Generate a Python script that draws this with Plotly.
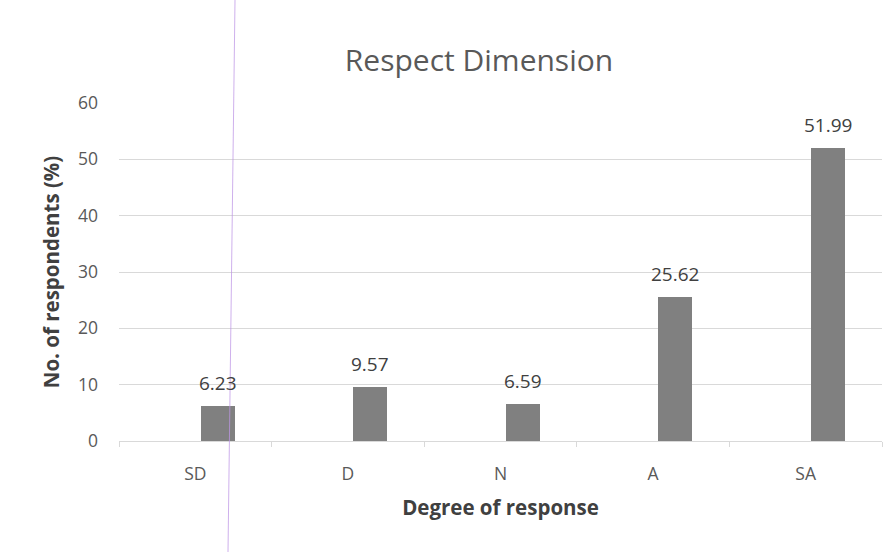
import plotly.graph_objects as go

# Survey results: share of respondents per Likert response level
categories = ["SD", "D", "N", "A", "SA"]
percent = [6.23, 9.57, 6.59, 25.62, 51.99]
y_ticks = [0, 10, 20, 30, 40, 50, 60]

FONT = "Open Sans"
TEXT_GREY = "#595959"
GRID_GREY = "#d9d9d9"
BAR_GREY = "#808080"

W, H = 896, 552
M_L, M_R, M_T, M_B = 119, 14, 103, 111
PLOT_W = W - M_L - M_R
PLOT_H = H - M_T - M_B

BAR_WIDTH = 0.223   # in category units
BAR_OFFSET = 0.035  # left edge of each bar relative to its category centre

fig = go.Figure()
fig.add_trace(go.Bar(
    x=categories,
    y=percent,
    width=[BAR_WIDTH] * len(categories),
    offset=[BAR_OFFSET] * len(categories),
    marker=dict(color=BAR_GREY, line=dict(width=0)),
    showlegend=False,
    hoverinfo="x+y",
))

# value labels centred over each bar
for i, v in enumerate(percent):
    fig.add_annotation(
        x=i + BAR_OFFSET + BAR_WIDTH / 2, y=v, xref="x", yref="y",
        text=f"{v:.2f}", showarrow=False, yanchor="bottom", yshift=8,
        font=dict(family=FONT, size=19, color="#404040"),
    )

# thin violet rule running down the whole page, slightly slanted
fig.add_shape(
    type="line", xref="paper", yref="paper",
    x0=(235 - M_L) / PLOT_W, y0=1 + M_T / PLOT_H,
    x1=(228 - M_L) / PLOT_W, y1=-M_B / PLOT_H,
    line=dict(color="rgba(190,150,230,0.75)", width=1),
)

fig.update_layout(
    width=W, height=H, autosize=False,
    margin=dict(l=M_L, r=M_R, t=M_T, b=M_B),
    paper_bgcolor="white", plot_bgcolor="white",
    bargap=0,
    title=dict(
        text="Respect Dimension", xref="container", yref="container",
        x=479 / W, y=1 - 60 / H, xanchor="center", yanchor="middle",
        font=dict(family=FONT, size=30, color=TEXT_GREY),
    ),
    font=dict(family=FONT, color=TEXT_GREY),
)

fig.update_xaxes(
    type="category", categoryorder="array", categoryarray=categories,
    range=[-0.5, len(categories) - 0.5],
    showgrid=False, showline=True, linecolor=GRID_GREY, linewidth=1,
    ticks="outside", tickson="boundaries", ticklen=5, tickcolor=GRID_GREY,
    ticklabelstandoff=17,
    tickfont=dict(family=FONT, size=17.5, color=TEXT_GREY),
    title=dict(text="<b>Degree of response</b>", standoff=16,
               font=dict(family=FONT, size=20.5, color="#404040")),
    zeroline=False,
)

fig.update_yaxes(
    range=[0, 60], tickvals=y_ticks,
    showgrid=True, gridcolor=GRID_GREY, gridwidth=1,
    zeroline=False, showline=False, ticks="",
    ticklabelstandoff=20,
    tickfont=dict(family=FONT, size=17.5, color=TEXT_GREY),
    title=dict(text="<b>No. of respondents (%)</b>", standoff=12,
               font=dict(family=FONT, size=20.5, color="#404040")),
)

fig.write_html("out.html")
